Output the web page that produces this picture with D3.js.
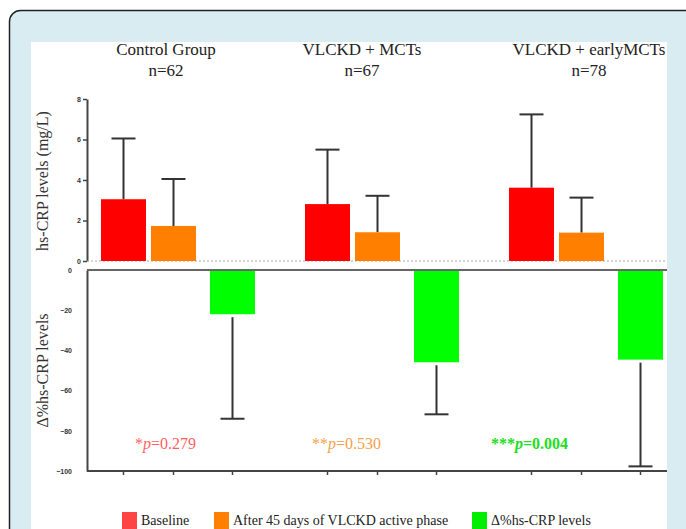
<!DOCTYPE html>
<html>
<head>
<meta charset="utf-8">
<script src="https://cdn.jsdelivr.net/npm/d3@7"></script>
<style>
  body { margin: 0; background: #fff; }
  svg { display: block; }
</style>
</head>
<body>
<div id="chart"></div>
<script>
// data
const groups = ["Control Group", "VLCKD + MCTs", "VLCKD + earlyMCTs"];
const groupN = ["n=62", "n=67", "n=78"];
const baseline = [3.05, 2.81, 3.62];
const baselineErr = [6.05, 5.5, 7.24];
const after45 = [1.73, 1.42, 1.40];
const after45Err = [4.05, 3.22, 3.13];
const deltaPct = [-22.0, -45.9, -44.6];
const deltaErr = [-74, -71.8, -97.7];
const pLabels = [["*", "0.279"], ["**", "0.530"], ["***", "0.004"]];
const topTicks = [0, 2, 4, 6, 8];
const botTicks = [0, -20, -40, -60, -80, -100];
const legendItems = ["Baseline", "After 45 days of VLCKD active phase", "\u0394%hs-CRP levels"];

const colors = {red: "#ff0000", orange: "#ff8000", green: "#00ff00"};
const legendColors = ["#ff4444", "#ff8000", "#00ee00"];
const pColors = ["#ff5f5f", "#f7a04c", "#22dd22"];

const W = 686, H = 529;
const svg = d3.select("#chart").append("svg")
    .attr("width", W)
    .attr("height", H);

// frame
svg.append("rect")
    .attr("x", 9.5).attr("y", 10.5)
    .attr("width", 720).attr("height", 600)
    .attr("rx", 11)
    .attr("fill", "#d8ecf2")
    .attr("stroke", "#222")
    .attr("stroke-width", 1.5);

svg.append("rect")
    .attr("x", 31).attr("y", 42)
    .attr("width", 636).attr("height", 500)
    .attr("fill", "#fff");

// scales
let x0 = d3.scaleBand().domain(groups).range([101, 713]);
let x1 = d3.scaleOrdinal().domain(["base", "after", "delta"]).range([0, 50, 109]);
let barW = 45;
let yTop = d3.scaleLinear().domain([0, 8]).range([261, 99]);
let yBot = d3.scaleLinear().domain([-100, 0]).range([471, 270]);

const serif = "Liberation Serif, Times New Roman, serif";
const sans = "Liberation Sans, Arial, sans-serif";

// group headers
let headerX = [166, 362, 589];
groups.forEach((g, i) => {
    svg.append("text")
        .attr("x", headerX[i]).attr("y", 55)
        .attr("text-anchor", "middle")
        .style("font-family", serif)
        .style("font-size", "17px")
        .attr("fill", "#222")
        .text(g);
    svg.append("text")
        .attr("x", headerX[i]).attr("y", 76)
        .attr("text-anchor", "middle")
        .style("font-family", serif)
        .style("font-size", "17px")
        .attr("fill", "#222")
        .text(groupN[i]);
});

// clip header overflow at panel edge
svg.append("rect")
    .attr("x", 667).attr("y", 40)
    .attr("width", 19).attr("height", 489)
    .attr("fill", "#d8ecf2");

// top axis
let axTop = svg.append("g")
    .attr("transform", "translate(87,0)")
    .call(d3.axisLeft(yTop).tickValues(topTicks).tickSize(4).tickPadding(2).tickSizeOuter(0));
axTop.select(".domain").attr("stroke", "#444").attr("stroke-width", 2);
axTop.selectAll(".tick line").attr("stroke", "#444").attr("stroke-width", 1.5);
axTop.selectAll("text").style("font-family", sans).style("font-size", "7px")
    .attr("font-weight", "bold").attr("fill", "#333");

// dotted zero line
svg.append("line")
    .attr("x1", 87).attr("x2", 667)
    .attr("y1", yTop(0)).attr("y2", yTop(0))
    .attr("stroke", "#aaa")
    .attr("stroke-width", 1)
    .attr("stroke-dasharray", "2,2");

// bottom axis
let axBot = svg.append("g")
    .attr("transform", "translate(87,0)")
    .call(d3.axisLeft(yBot).tickValues(botTicks).tickSize(0).tickPadding(15).tickSizeOuter(0));
axBot.select(".domain").attr("stroke", "#444").attr("stroke-width", 2);
axBot.selectAll("text").style("font-family", sans).style("font-size", "7px")
    .attr("font-weight", "bold").attr("fill", "#333");

svg.append("line")
    .attr("x1", 87).attr("x2", 667)
    .attr("y1", yBot(0)).attr("y2", yBot(0))
    .attr("stroke", "#666").attr("stroke-width", 2);
svg.append("line")
    .attr("x1", 87).attr("x2", 667)
    .attr("y1", yBot(-100)).attr("y2", yBot(-100))
    .attr("stroke", "#444").attr("stroke-width", 2);

// x ticks along the bottom
let tickXs = [];
groups.forEach(g => ["base", "after", "delta"].forEach(s => tickXs.push(x0(g) + x1(s) + barW / 2)));
svg.selectAll(".xtick").data(tickXs).enter().append("line")
    .attr("x1", d => d).attr("x2", d => d)
    .attr("y1", yBot(-100)).attr("y2", yBot(-100) + 4)
    .attr("stroke", "#444").attr("stroke-width", 1.5);

// build bar data
let bars = [];
groups.forEach((g, i) => {
    bars.push({g: g, s: "base", v: baseline[i], e: baselineErr[i], c: colors.red, y: yTop});
    bars.push({g: g, s: "after", v: after45[i], e: after45Err[i], c: colors.orange, y: yTop});
    bars.push({g: g, s: "delta", v: deltaPct[i], e: deltaErr[i], c: colors.green, y: yBot});
});

// error bars
let errG = svg.append("g");
bars.forEach(d => {
    let cx = x0(d.g) + x1(d.s) + barW / 2;
    let start = d.v >= 0 ? d.y(d.v) : d.y(d.v) + 3;
    errG.append("line")
        .attr("x1", cx).attr("x2", cx)
        .attr("y1", start).attr("y2", d.y(d.e))
        .attr("stroke", "#333").attr("stroke-width", 2);
    errG.append("line")
        .attr("x1", cx - 12).attr("x2", cx + 12)
        .attr("y1", d.y(d.e)).attr("y2", d.y(d.e))
        .attr("stroke", "#333").attr("stroke-width", 2);
});

svg.selectAll(".bar").data(bars).enter().append("rect")
    .attr("x", d => x0(d.g) + x1(d.s))
    .attr("y", d => d.v >= 0 ? d.y(d.v) : d.y(0) + 1)
    .attr("width", barW)
    .attr("height", d => d.v >= 0 ? d.y(0) - d.y(d.v) : d.y(d.v) - d.y(0) - 1)
    .attr("fill", d => d.c);

// axis titles
svg.append("text")
    .attr("transform", `translate(48,${(yTop(0) + yTop(8)) / 2 + 1}) rotate(-90)`)
    .attr("text-anchor", "middle")
    .style("font-family", serif)
    .style("font-size", "16px")
    .attr("fill", "#333")
    .text("hs-CRP levels (mg/L)");

svg.append("text")
    .attr("transform", `translate(48,${(yBot(0) + yBot(-100)) / 2}) rotate(-90)`)
    .attr("text-anchor", "middle")
    .style("font-family", serif)
    .style("font-size", "16px")
    .attr("fill", "#333")
    .text("\u0394%hs-CRP levels");

// p values
let pX = [135, 312, 491];
pLabels.forEach((p, i) => {
    let t = svg.append("text")
        .attr("x", pX[i]).attr("y", 449)
        .style("font-family", serif)
        .style("font-size", "16px")
        .attr("font-weight", i === 2 ? "bold" : "normal")
        .attr("fill", pColors[i]);
    t.append("tspan").text(p[0]);
    t.append("tspan").attr("font-style", "italic").text("p");
    t.append("tspan").text("=" + p[1]);
});

// legend
let legX = [122, 214, 472];
legendItems.forEach((l, i) => {
    svg.append("rect")
        .attr("x", legX[i]).attr("y", 512)
        .attr("width", 15).attr("height", 17)
        .attr("fill", legendColors[i]);
    svg.append("text")
        .attr("x", legX[i] + 19).attr("y", 525)
        .style("font-family", serif)
        .style("font-size", "14px")
        .attr("fill", "#222")
        .text(l);
});
</script>
</body>
</html>
